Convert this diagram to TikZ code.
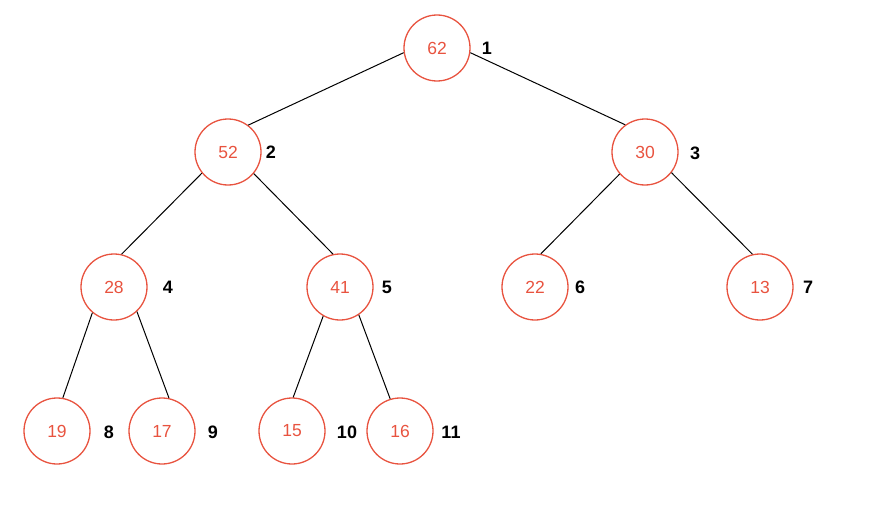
\documentclass[tikz,border=0pt]{standalone}
\usepackage{fontspec}
\setmainfont{Liberation Sans}
\definecolor{heapred}{HTML}{E8533F}
\begin{document}
\begin{tikzpicture}[x=1pt,y=-1pt,
  hnode/.style={circle,draw=heapred,line width=1.3pt,minimum size=66pt,inner sep=0pt,text=heapred,font=\fontsize{17.5}{20}\selectfont},
  idx/.style={font=\bfseries\fontsize{18}{20}\selectfont,text=black,inner sep=0pt},
  edge/.style={draw=black,line width=1pt}]
\useasboundingbox (0,0) rectangle (873,527);
\node[hnode] (n1) at (437,48) {62};
\node[hnode] (n2) at (228,152) {52};
\node[hnode] (n3) at (645,152) {30};
\node[hnode] (n4) at (114,287) {28};
\node[hnode] (n5) at (340,287) {41};
\node[hnode] (n6) at (535,287) {22};
\node[hnode] (n7) at (760,287) {13};
\node[hnode] (n8) at (57,431) {19};
\node[hnode] (n9) at (162,431) {17};
\node[hnode] (n10) at (292,431) {15};
\node[hnode] (n11) at (400,431) {16};
\node[idx] (l1) at (487,48) {1};
\node[idx] (l2) at (271,152) {2};
\node[idx] (l3) at (695,153) {3};
\node[idx] (l4) at (168,287) {4};
\node[idx] (l5) at (387,287) {5};
\node[idx] (l6) at (580,287) {6};
\node[idx] (l7) at (808,287) {7};
\node[idx] (l8) at (109,432) {8};
\node[idx] (l9) at (213,432) {9};
\node[idx] (l10) at (347,432) {10};
\node[idx] (l11) at (451,432) {11};
\draw[edge] (n1.188) -- (n2.53);
\draw[edge] (n1.352) -- (n3.126);
\draw[edge] (n2.219) -- (n4.77);
\draw[edge] (n2.320) -- (n5.102);
\draw[edge] (n3.221) -- (n6.80);
\draw[edge] (n3.322) -- (n7.103);
\draw[edge] (n4.230) -- (n8.80);
\draw[edge] (n4.313) -- (n9.78);
\draw[edge] (n5.240) -- (n10.88);
\draw[edge] (n5.304) -- (n11.107);
\end{tikzpicture}
\end{document}
